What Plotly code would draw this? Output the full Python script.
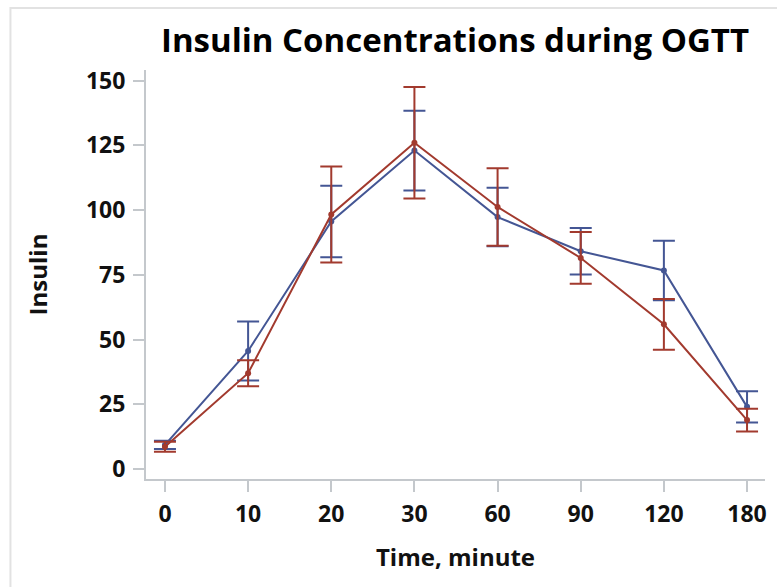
import plotly.graph_objects as go

time_labels = ["0", "10", "20", "30", "60", "90", "120", "180"]
blue_mean = [9.3, 45.6, 95.6, 123.0, 97.3, 84.1, 76.7, 24.0]
blue_err = [1.6, 11.4, 13.8, 15.4, 11.3, 9.0, 11.5, 6.0]
red_mean = [8.6, 37.0, 98.3, 126.0, 101.2, 81.5, 55.9, 18.9]
red_err = [1.9, 5.0, 18.5, 21.5, 15.0, 10.0, 9.8, 4.4]

BLUE = "#445694"
RED = "#A23A2E"
FONT = "Open Sans"

fig = go.Figure()
for mean, err, col in [(blue_mean, blue_err, BLUE), (red_mean, red_err, RED)]:
    fig.add_trace(go.Scatter(
        x=time_labels, y=mean, mode="lines+markers",
        line=dict(color=col, width=2),
        marker=dict(color=col, size=6),
        error_y=dict(type="data", array=err, visible=True, color=col,
                     thickness=2, width=11),
        showlegend=False,
    ))

W, H = 777, 587
L, R, T, B = 146, 10, 70, 108
pw, ph = W - L - R, H - T - B

fig.update_layout(
    width=W, height=H,
    margin=dict(l=L, r=R, t=T, b=B),
    paper_bgcolor="white", plot_bgcolor="white",
    font=dict(family=FONT, color="#111111"),
    title=dict(text="<b>Insulin Concentrations during OGTT</b>",
               x=(455) / W, xanchor="center",
               y=1 - 40 / H, yanchor="middle",
               font=dict(size=33, family=FONT, color="#000000")),
    xaxis=dict(type="category", categoryorder="array", categoryarray=time_labels,
               range=[-0.228, 7.216],
               showline=True, linecolor="#C4C8CC", linewidth=2,
               ticks="outside", ticklen=11, tickwidth=2, tickcolor="#C4C8CC",
               ticklabelstandoff=2,
               showgrid=False, zeroline=False,
               tickfont=dict(size=23, family=FONT, color="#111111", weight="bold"),
               title=dict(text="<b>Time, minute</b>", font=dict(size=24, family=FONT),
                          standoff=22)),
    yaxis=dict(range=[-3.86, 154.1],
               tickvals=[0, 25, 50, 75, 100, 125, 150],
               showline=True, linecolor="#C4C8CC", linewidth=2,
               ticks="outside", ticklen=11, tickwidth=2, tickcolor="#C4C8CC",
               ticklabelstandoff=3,
               showgrid=False, zeroline=False,
               tickfont=dict(size=23, family=FONT, color="#111111", weight="bold"),
               title=dict(text="<b>Insulin</b>", font=dict(size=24, family=FONT),
                          standoff=32)),
)

# outer frame (light gray border, partially cropped in reference)
fig.add_shape(type="rect", xref="paper", yref="paper",
              x0=(10 - L) / pw, x1=(W + 20 - L) / pw,
              y0=-(H + 20 - (T + ph)) / ph, y1=1 + (T - 8) / ph,
              line=dict(color="#E2E2E2", width=2), fillcolor="rgba(0,0,0,0)",
              layer="below")

fig.write_html("out.html")
